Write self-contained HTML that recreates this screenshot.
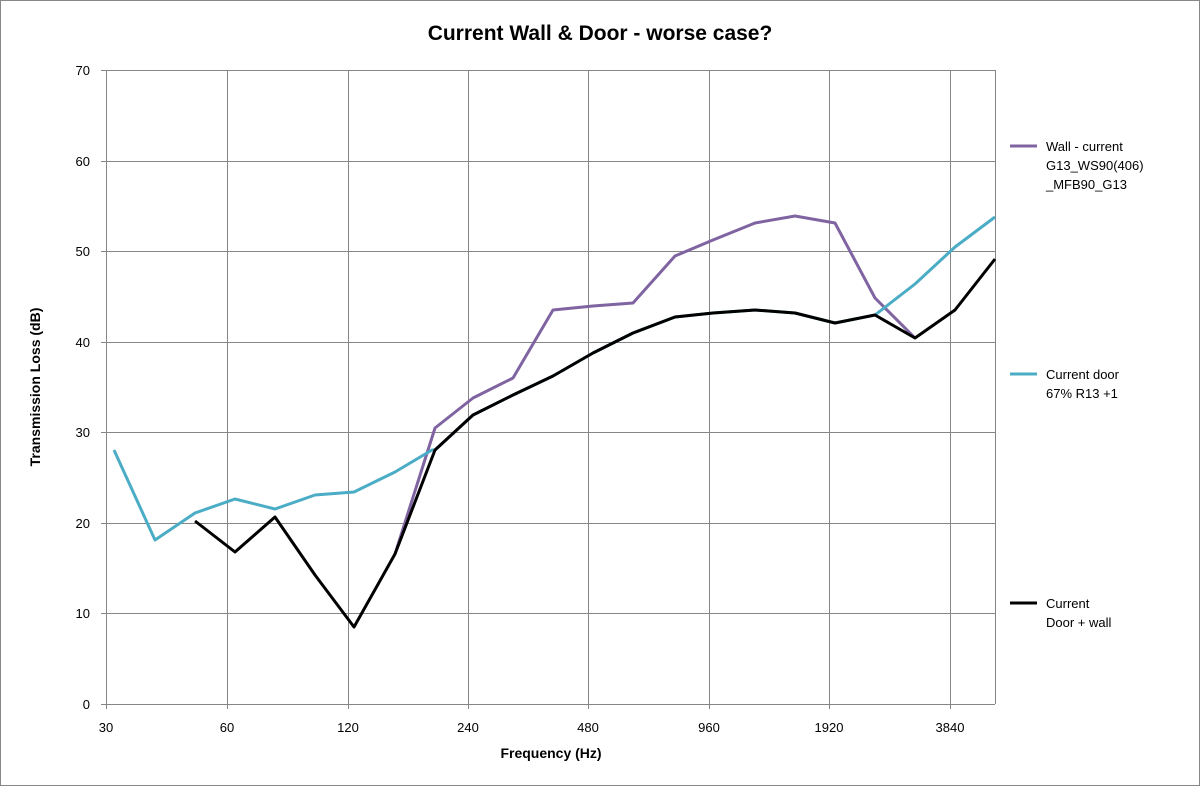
<!DOCTYPE html>
<html><head><meta charset="utf-8"><style>
body{margin:0;background:#fff}
svg{display:block}
text{font-family:"Liberation Sans",sans-serif}
</style></head><body>
<svg width="1200" height="786" viewBox="0 0 1200 786">
<rect x="0.5" y="0.5" width="1199" height="785" fill="#fff" stroke="#888"/>
<text x="600" y="40" text-anchor="middle" font-size="21" font-weight="bold">Current Wall &amp; Door - worse case?</text>
<g stroke="#868686" stroke-width="1">
<line x1="106" y1="70.5" x2="995" y2="70.5"/><line x1="106" y1="161.5" x2="995" y2="161.5"/>
<line x1="106" y1="251.5" x2="995" y2="251.5"/><line x1="106" y1="342.5" x2="995" y2="342.5"/>
<line x1="106" y1="432.5" x2="995" y2="432.5"/><line x1="106" y1="523.5" x2="995" y2="523.5"/>
<line x1="106" y1="613.5" x2="995" y2="613.5"/><line x1="106" y1="704.5" x2="995" y2="704.5"/>
<line x1="106.5" y1="70" x2="106.5" y2="709"/><line x1="227.5" y1="70" x2="227.5" y2="709"/>
<line x1="348.5" y1="70" x2="348.5" y2="709"/><line x1="468.5" y1="70" x2="468.5" y2="709"/>
<line x1="588.5" y1="70" x2="588.5" y2="709"/><line x1="709.5" y1="70" x2="709.5" y2="709"/>
<line x1="829.5" y1="70" x2="829.5" y2="709"/><line x1="950.5" y1="70" x2="950.5" y2="709"/>
<line x1="995.5" y1="70" x2="995.5" y2="704"/>
<line x1="101" y1="70.5" x2="106" y2="70.5"/><line x1="101" y1="161.5" x2="106" y2="161.5"/><line x1="101" y1="251.5" x2="106" y2="251.5"/><line x1="101" y1="342.5" x2="106" y2="342.5"/><line x1="101" y1="432.5" x2="106" y2="432.5"/><line x1="101" y1="523.5" x2="106" y2="523.5"/><line x1="101" y1="613.5" x2="106" y2="613.5"/><line x1="101" y1="704.5" x2="106" y2="704.5"/>
</g>
<g font-size="13" text-anchor="end">
<text x="90" y="75">70</text><text x="90" y="166">60</text><text x="90" y="256">50</text><text x="90" y="347">40</text><text x="90" y="437">30</text><text x="90" y="528">20</text><text x="90" y="618">10</text><text x="90" y="709">0</text>
</g>
<g font-size="13" text-anchor="middle">
<text x="106" y="732">30</text><text x="227" y="732">60</text><text x="348" y="732">120</text><text x="468" y="732">240</text><text x="588" y="732">480</text><text x="709" y="732">960</text><text x="829" y="732">1920</text><text x="950" y="732">3840</text>
</g>
<text x="551" y="758" text-anchor="middle" font-size="14" font-weight="bold">Frequency (Hz)</text>
<text transform="translate(40,387) rotate(-90)" text-anchor="middle" font-size="14" font-weight="bold">Transmission Loss (dB)</text>
<g fill="none" stroke-width="3" stroke-linejoin="round">
<polyline stroke="#8064a2" points="395,554 435,428 473,398 513,378 553,310 593,306 633,303 675,256 713,240 755,223 795,216 835,223 875,298 915,338"/>
<polyline stroke="#4bacc6" points="114,450 155,540 195,513 235,499 275,509 315,495 354,492 395,472 432,450 435,450 473,415 513,395 553,376 593,353 633,333 675,317 713,313 755,310 795,313 835,323 875,315 915,284 955,247 995,217"/>
<polyline stroke="#000" points="195,521 235,552 275,517 315,575 354,627 395,554 435,450 473,415 513,395 553,376 593,353 633,333 675,317 713,313 755,310 795,313 835,323 875,315 915,338 955,310 995,259"/>
</g>
<g stroke-width="3">
<line x1="1010" y1="146" x2="1037" y2="146" stroke="#8064a2"/>
<line x1="1010" y1="374" x2="1037" y2="374" stroke="#4bacc6"/>
<line x1="1010" y1="603" x2="1037" y2="603" stroke="#000"/>
</g>
<g font-size="13">
<text x="1046" y="151">Wall - current</text><text x="1046" y="170">G13_WS90(406)</text><text x="1046" y="189">_MFB90_G13</text>
<text x="1046" y="379">Current door</text><text x="1046" y="398">67% R13 +1</text>
<text x="1046" y="608">Current</text><text x="1046" y="627">Door + wall</text>
</g>
</svg>
</body></html>
